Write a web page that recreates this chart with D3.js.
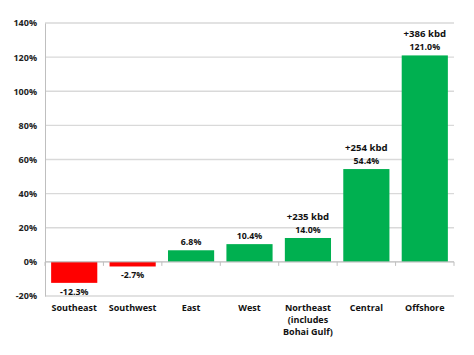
<!DOCTYPE html>
<html><head><meta charset="utf-8">
<script src="https://cdn.jsdelivr.net/npm/d3@7"></script>
<style>body{margin:0;background:#fff;} text{font-family:"Open Sans","Liberation Sans",sans-serif;}</style>
</head><body><svg id="c" width="474" height="355"></svg>
<script>
const categories = ["Southeast","Southwest","East","West","Northeast (includes Bohai Gulf)","Central","Offshore"];
const categoryLines = [["Southeast"],["Southwest"],["East"],["West"],["Northeast","(includes","Bohai Gulf)"],["Central"],["Offshore"]];
const values = [-12.3,-2.7,6.8,10.4,14.0,54.4,121.0];
const kbdLabels = ["","","","","+235 kbd","+254 kbd","+386 kbd"];
const yTicks = [-20,0,20,40,60,80,100,120,140];

(function(){
const svg = d3.select("#c");
const mLeft = 45, mRight = 454, mTop = 23, mBottom = 296;
const x = d3.scaleBand().domain(categories).range([mLeft,mRight]).paddingInner(0.21).paddingOuter(0.105);
const y = d3.scaleLinear().domain([-20,140]).range([mBottom,mTop]);

svg.append("g").selectAll("line").data(yTicks).join("line")
  .attr("x1",mLeft).attr("x2",mRight).attr("y1",d=>y(d)).attr("y2",d=>y(d))
  .attr("stroke","#d9d9d9").attr("stroke-width",1.3);
const yAxis = d3.axisLeft(y).tickValues(yTicks).tickFormat(d=>d+"%").tickSize(0).tickPadding(8);
const ga = svg.append("g").attr("transform",`translate(${mLeft},0)`).call(yAxis);
ga.select(".domain").attr("stroke","#bfbfbf");
ga.selectAll("text").attr("font-size",9).attr("font-weight","bold").attr("fill","#222");

svg.append("g").selectAll("rect").data(values).join("rect")
  .attr("x",(d,i)=>x(categories[i])).attr("width",x.bandwidth())
  .attr("y",d=>y(Math.max(0,d))).attr("height",d=>Math.abs(y(d)-y(0)))
  .attr("fill",d=>d<0?"#ff0000":"#00b050");

svg.append("line").attr("x1",mLeft).attr("x2",mRight).attr("y1",y(0)).attr("y2",y(0)).attr("stroke","#bfbfbf").attr("stroke-width",1);
const bounds = d3.range(categories.length+1).map(i=>mLeft+i*(mRight-mLeft)/categories.length);
svg.append("g").selectAll("line").data(bounds).join("line")
  .attr("x1",d=>d).attr("x2",d=>d).attr("y1",y(0)).attr("y2",y(0)+4).attr("stroke","#bfbfbf");

svg.append("g").selectAll("text").data(values).join("text")
  .attr("x",(d,i)=>x(categories[i])+x.bandwidth()/2)
  .attr("y",d=>d<0?y(d)+12:y(d)-5)
  .attr("text-anchor","middle").attr("font-size",8.8).attr("font-weight","bold").attr("fill","#111")
  .text(d=>d.toFixed(1)+"%");
svg.append("g").selectAll("text").data(kbdLabels).join("text")
  .attr("x",(d,i)=>x(categories[i])+x.bandwidth()/2)
  .attr("y",(d,i)=>y(values[i])-18)
  .attr("text-anchor","middle").attr("font-size",9.6).attr("font-weight","bold").attr("fill","#111")
  .text(d=>d);

const cg = svg.append("g");
categoryLines.forEach((lines,i)=>{
  const cx = x(categories[i])+x.bandwidth()/2;
  const t = cg.append("text").attr("x",cx).attr("y",311)
    .attr("text-anchor","middle").attr("font-size",9).attr("font-weight","bold").attr("fill","#111");
  lines.forEach((l,j)=>t.append("tspan").attr("x",cx).attr("dy",j?12:0).text(l));
});
})();
</script></body></html>
